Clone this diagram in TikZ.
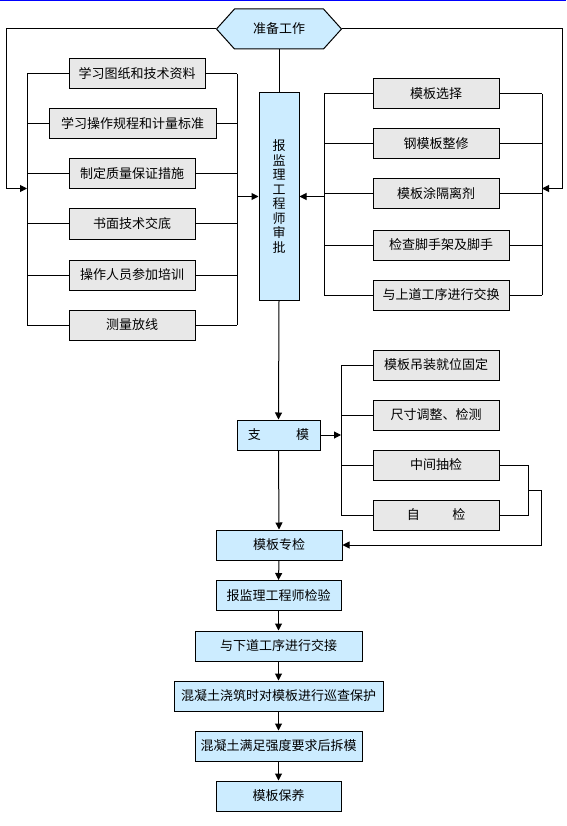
\documentclass[tikz,border=0pt]{standalone}
\usepackage{fontspec}
\newfontfamily\cjk{Noto Sans CJK SC}
\usepackage{tikz}
\usetikzlibrary{arrows.meta,shapes.symbols}
\definecolor{lblue}{HTML}{CCECFF}
\definecolor{lgray}{HTML}{E8E8E8}
\tikzset{
  base/.style={draw,line width=1pt,inner sep=0pt,font=\cjk\fontsize{13}{15}\selectfont},
  blubox/.style={base,fill=lblue,minimum height=30pt},
  grybox/.style={base,fill=lgray,minimum height=30pt},
  arr/.style={-{Triangle[length=7pt,width=7pt]}}
}

\begin{document}
\begin{tikzpicture}[x=1pt,y=-1pt,line width=1pt]
\useasboundingbox[fill=white] (0,0) rectangle (566,826);
\draw[blue,line width=1.5pt] (0,0.75)--(566,0.75);
% start
\node[base,fill=lblue,shape=signal,signal to=east and west,signal pointer angle=96,
  minimum width=125pt,minimum height=40pt] (prep) at (279,29) {准备工作};
\node[blubox,minimum width=40pt,minimum height=207pt,align=center,
  font=\cjk\fontsize{13}{14.5}\selectfont] (shen) at (279,196.5)
  {报\\监\\理\\工\\程\\师\\审\\批};
% left group
\node[grybox,minimum width=136pt] (L1) at (137,74) {学习图纸和技术资料};
\node[grybox,minimum width=167pt] (L2) at (132.5,124) {学习操作规程和计量标准};
\node[grybox,minimum width=126pt] (L3) at (132,174) {制定质量保证措施};
\node[grybox,minimum width=126pt] (L4) at (132,224) {书面技术交底};
\node[grybox,minimum width=126pt] (L5) at (132,275) {操作人员参加培训};
\node[grybox,minimum width=126pt] (L6) at (132,325) {测量放线};
% right group
\node[grybox,minimum width=126pt] (R1) at (436,94) {模板选择};
\node[grybox,minimum width=126pt] (R2) at (436,144) {钢模板整修};
\node[grybox,minimum width=126pt] (R3) at (436,194) {模板涂隔离剂};
\node[grybox,minimum width=136pt] (R4) at (441,245) {检查脚手架及脚手};
\node[grybox,minimum width=136pt] (R5) at (441,295) {与上道工序进行交换};
% middle
\node[blubox,minimum width=83pt] (zhi) at (278.5,435) {支\hspace{2.7em}模};
\node[grybox,minimum width=126pt] (M1) at (436,365) {模板吊装就位固定};
\node[grybox,minimum width=126pt] (M2) at (436,415) {尺寸调整、检测};
\node[grybox,minimum width=126pt] (M3) at (436,465) {中间抽检};
\node[grybox,minimum width=126pt] (M4) at (436,515) {自\hspace{2.5em}检};
\node[blubox,minimum width=126pt] (zhuan) at (279,545) {模板专检};
% bottom
\node[blubox,minimum width=125pt] (B1) at (278.5,595.5) {报监理工程师检验};
\node[blubox,minimum width=167pt] (B2) at (278.5,646) {与下道工序进行交接};
\node[blubox,minimum width=209pt] (B3) at (278.5,696) {混凝土浇筑时对模板进行巡查保护};
\node[blubox,minimum width=167pt] (B4) at (278.5,746) {混凝土满足强度要求后拆模};
\node[blubox,minimum width=125pt] (B5) at (278.5,796) {模板保养};
% buses
\coordinate (lb) at (27,0);
\coordinate (lc) at (237,0);
\coordinate (rb) at (324,0);
\coordinate (rc) at (542,0);
\coordinate (mb) at (341,0);
\coordinate (mc) at (528,0);
\coordinate (md) at (541,0);
\coordinate (lo) at (6,0);
\coordinate (ro) at (562,0);
\draw (lb |- L1.west) -- (lb |- L6.west) (lc |- L1.east) -- (lc |- L6.east);
\foreach \n in {L1,L2,L3,L4,L5,L6}
  \draw (lb |- \n.west) -- (\n.west) (\n.east) -- (lc |- \n.east);
\draw (rb |- R1.west) -- (rb |- R5.west) (rc |- R1.east) -- (rc |- R5.east);
\foreach \n in {R1,R2,R3,R4,R5}
  \draw (rb |- \n.west) -- (\n.west) (\n.east) -- (rc |- \n.east);
\draw (mb |- M1.west) -- (mb |- M4.west);
\foreach \n in {M1,M2,M3,M4}
  \draw (mb |- \n.west) -- (\n.west);
% connectors
\draw (prep.south) -- (shen.north);
\draw[arr] (prep.west) -- (lo |- prep.west) -- ([yshift=8pt]lo |- shen.west) -- ([yshift=8pt]lb |- shen.west);
\draw[arr] (prep.east) -- (ro |- prep.east) -- ([yshift=8pt]ro |- shen.east) -- ([yshift=8pt]rc |- shen.east);
\draw[arr] (lc |- shen.west) -- (shen.west);
\draw[arr] (rb |- shen.east) -- (shen.east);
\draw[arr] (shen.south) -- (zhi.north);
\draw[arr] (zhi.east) -- (mb |- zhi.east);
\draw (M3.east) -- (mc |- M3.east) |- (M4.east);
\draw[arr] ([yshift=-25pt]mc |- M3.east) -- ([yshift=-25pt]md |- M3.east) |- (zhuan.east);
\draw[arr] (zhi.south) -- (zhuan.north);
\draw[arr] (zhuan.south) -- (B1.north);
\draw[arr] (B1.south) -- (B2.north);
\draw[arr] (B2.south) -- (B3.north);
\draw[arr] (B3.south) -- (B4.north);
\draw[arr] (B4.south) -- (B5.north);
\end{tikzpicture}
\end{document}
